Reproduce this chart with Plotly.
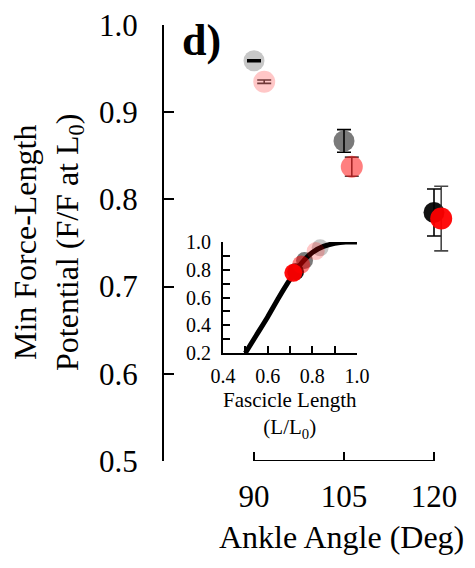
import plotly.graph_objects as go

W, H = 475, 568
FONT = "Liberation Serif"

# Main panel: minimum force-length potential vs ankle angle
angles = [90, 105, 120]
angles_red = [91.7, 106.3, 121.2]          # red series drawn slightly offset
fl_gray = [0.959, 0.867, 0.785]
fl_gray_err = [0.001, 0.013, 0.027]
fl_red = [0.935, 0.8375, 0.778]
fl_red_err = [0.002, 0.011, 0.037]
gray_colors = ["rgba(0,0,0,0.22)", "rgba(0,0,0,0.52)", "rgba(0,0,0,0.93)"]
red_colors = ["rgba(255,0,0,0.22)", "rgba(255,0,0,0.5)", "rgba(255,0,0,0.95)"]

# Inset: force-length curve with operating points
curve_len = [0.50, 0.55, 0.60, 0.65, 0.70, 0.75, 0.80, 0.85, 0.90, 0.95, 1.00]
curve_force = [0.20, 0.33, 0.46, 0.60, 0.73, 0.845, 0.925, 0.968, 0.99, 1.0, 1.0]
len_gray = [0.835, 0.765, 0.725]
len_red = [0.815, 0.75, 0.715]

main_ticks_y = [0.5, 0.6, 0.7, 0.8, 0.9, 1.0]
inset_ticks_y = [0.2, 0.4, 0.6, 0.8, 1.0]
inset_ticks_x = [0.4, 0.6, 0.8, 1.0]


def px(x):
    return x / W


def py(y):
    return 1 - y / H


fig = go.Figure()

fig.add_trace(go.Scatter(
    x=angles, y=fl_gray, mode="markers",
    marker=dict(size=21, color=gray_colors, line=dict(width=0)),
    error_y=dict(type="data", array=fl_gray_err, color="black", thickness=1.6, width=7),
    cliponaxis=False, showlegend=False, xaxis="x", yaxis="y"))
fig.add_trace(go.Scatter(
    x=angles_red, y=fl_red, mode="markers",
    marker=dict(size=22, color=red_colors, line=dict(width=0)),
    error_y=dict(type="data", array=fl_red_err, color="rgba(40,40,40,0.85)", thickness=1.6, width=7),
    cliponaxis=False, showlegend=False, xaxis="x", yaxis="y"))

fig.add_trace(go.Scatter(
    x=curve_len, y=curve_force, mode="lines",
    line=dict(color="black", width=5, shape="spline", smoothing=0.6),
    showlegend=False, xaxis="x2", yaxis="y2"))
fig.add_trace(go.Scatter(
    x=len_gray, y=fl_gray, mode="markers",
    marker=dict(size=17, color=gray_colors, line=dict(width=0)),
    cliponaxis=False, showlegend=False, xaxis="x2", yaxis="y2"))
fig.add_trace(go.Scatter(
    x=len_red, y=fl_red, mode="markers",
    marker=dict(size=18, color=red_colors, line=dict(width=0)),
    cliponaxis=False, showlegend=False, xaxis="x2", yaxis="y2"))

# axis pixel layout
x_left, x90, x120, x_right = 164, 254, 434, 475
ppu = (x120 - x90) / (angles[-1] - angles[0])
x_range = [angles[0] - (x90 - x_left) / ppu, angles[0] + (x_right - x90) / ppu]

axis_font = dict(family=FONT, size=31, color="black")
inset_font = dict(family=FONT, size=20, color="black")

fig.update_layout(
    width=W, height=H, margin=dict(l=0, r=0, t=0, b=0),
    paper_bgcolor="white", plot_bgcolor="rgba(0,0,0,0)",
    xaxis=dict(domain=[px(x_left), 1.0], range=x_range, showline=False,
               showgrid=False, zeroline=False, tickvals=angles,
               ticks="inside", ticklen=9, tickwidth=2, tickcolor="black",
               tickfont=axis_font, ticklabelstandoff=14, automargin=False),
    yaxis=dict(domain=[py(461), py(25)], range=[0.5, 1.0], showline=True,
               linecolor="black", linewidth=2, showgrid=False, zeroline=False,
               tickvals=main_ticks_y, tickformat=".1f", ticks="inside",
               ticklen=10, tickwidth=2, tickcolor="black", tickfont=axis_font,
               ticklabelstandoff=18, automargin=False),
    xaxis2=dict(domain=[px(223), px(357)], range=[0.4, 1.0], anchor="y2",
                showline=True, linecolor="black", linewidth=2, showgrid=False,
                zeroline=False, tickvals=inset_ticks_x, tickformat=".1f",
                ticks="inside", ticklen=7, tickwidth=2, tickcolor="black",
                minor=dict(dtick=0.1, tick0=0.4, ticks="inside", ticklen=7,
                           tickwidth=2, tickcolor="black", showgrid=False),
                tickfont=inset_font, ticklabelstandoff=4, automargin=False),
    yaxis2=dict(domain=[py(353), py(242)], range=[0.2, 1.0], anchor="x2",
                showline=True, linecolor="black", linewidth=2, showgrid=False,
                zeroline=False, tickvals=inset_ticks_y, tickformat=".1f",
                ticks="inside", ticklen=7, tickwidth=2, tickcolor="black",
                minor=dict(dtick=0.1, tick0=0.2, ticks="inside", ticklen=7,
                           tickwidth=2, tickcolor="black", showgrid=False),
                tickfont=inset_font, ticklabelstandoff=6, automargin=False),
    shapes=[dict(type="line", xref="x", yref="y", x0=angles[0], x1=angles[-1],
                 y0=main_ticks_y[0], y1=main_ticks_y[0],
                 line=dict(color="black", width=2))],
    annotations=[
        dict(text="Min Force-Length<br>Potential (F/F at L<sub>0</sub>)",
             x=px(48), y=py(243), xref="paper", yref="paper", textangle=-90,
             showarrow=False, xanchor="center", yanchor="middle",
             font=dict(family=FONT, size=32, color="black")),
        dict(text="Ankle Angle (Deg)", x=px(341), y=py(537), xref="paper",
             yref="paper", showarrow=False, xanchor="center", yanchor="middle",
             font=dict(family=FONT, size=32, color="black")),
        dict(text="<b>d)</b>", x=px(180), y=py(40), xref="paper", yref="paper",
             showarrow=False, xanchor="left", yanchor="middle",
             font=dict(family=FONT, size=44, color="black")),
        dict(text="Fascicle Length<br>(L/L<sub>0</sub>)", x=px(290), y=py(415),
             xref="paper", yref="paper", showarrow=False, xanchor="center",
             yanchor="middle", font=dict(family=FONT, size=21, color="black")),
    ],
)

fig.write_html("out.html")
